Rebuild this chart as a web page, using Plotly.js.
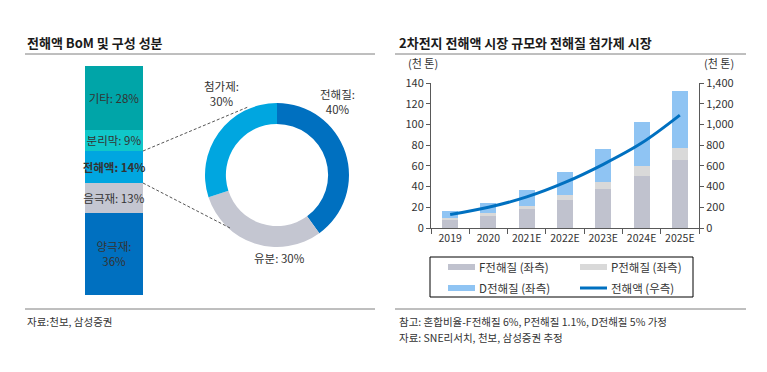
<!DOCTYPE html>
<html>
<head>
<meta charset="utf-8">
<script src="https://cdn.plot.ly/plotly-3.0.1.min.js"></script>
<style>html,body{margin:0;padding:0;background:#fff;}#chart{width:767px;height:372px;}</style>
</head>
<body>
<div id="chart"></div>
<script>
// ---------- data ----------
const bomLabels = ['양극재', '음극재', '전해액', '분리막', '기타'];
const bomValues = [36, 13, 14, 9, 28];
const bomText = ['양극재:<br>36%', '음극재: 13%', '<b>전해액: 14%</b>', '분리막: 9%', '기타: 28%'];

const donutLabels = ['전해질', '유분', '첨가제'];
const donutValues = [40, 30, 30];

const years = ['2019', '2020', '2021E', '2022E', '2023E', '2024E', '2025E'];
const fElectrolyte = [8, 12, 18, 27.5, 38, 50, 65.5];
const pElectrolyte = [2, 2.5, 3.5, 4.5, 6.5, 10, 12];
const dElectrolyte = [6, 10, 15, 22.5, 31.5, 42, 54.5];
const electrolyteMarket = [130, 200, 300, 440, 615, 820, 1090];
const seriesNames = ['F전해질 (좌측)', 'P전해질 (좌측)', 'D전해질 (좌측)', '전해액 (우측)'];

// ---------- styles ----------
const W = 767, H = 372;
const px = x => x / W, py = y => 1 - y / H;
const FONT = '"Noto Sans CJK KR", "Noto Sans", sans-serif';
const bomColors = ['#0070C0', '#C4C6D1', '#00A6E0', '#10C7C9', '#00A5A8'];
const donutColors = ['#0070C0', '#C4C6D1', '#00A6E0'];
const seriesColors = ['#C0C2CE', '#D9D9D9', '#8FC4F3', '#0070C0'];
const txt = '#333333';

const traces = [];
// Left stacked BoM bar
bomLabels.forEach((lab, i) => {
  traces.push({
    type: 'bar', x: ['BoM'], y: [bomValues[i]], name: lab, width: [1],
    xaxis: 'x3', yaxis: 'y3', marker: {color: bomColors[i], line: {width: 0}},
    text: [bomText[i]], textposition: 'inside', insidetextanchor: 'middle',
    constraintext: 'none', textangle: 0, cliponaxis: false,
    textfont: {family: FONT, size: 11.5, color: txt},
    showlegend: false, hoverinfo: 'none'
  });
});
// Donut
traces.push({
  type: 'pie', labels: donutLabels, values: donutValues, hole: 0.71, sort: false,
  direction: 'clockwise', rotation: 0, textinfo: 'none', hoverinfo: 'none',
  marker: {colors: donutColors, line: {width: 0}},
  domain: {x: [px(205), px(349)], y: [py(247), py(103)]}, showlegend: false
});
// Right chart
const stackData = [fElectrolyte, pElectrolyte, dElectrolyte];
stackData.forEach((arr, i) => {
  traces.push({
    type: 'bar', x: years, y: arr, name: seriesNames[i], width: 0.42,
    marker: {color: seriesColors[i], line: {width: 0}},
    xaxis: 'x', yaxis: 'y', showlegend: false, hoverinfo: 'none'
  });
});
traces.push({
  type: 'scatter', mode: 'lines', x: years, y: electrolyteMarket, name: seriesNames[3],
  line: {color: seriesColors[3], width: 3, shape: 'spline'},
  xaxis: 'x', yaxis: 'y2', showlegend: false, hoverinfo: 'none'
});

// ---------- decorations ----------
const shapes = [
  {type: 'line', xref: 'paper', yref: 'paper', x0: px(25), x1: px(375), y0: py(54), y1: py(54), line: {color: '#7f7f7f', width: 1}},
  {type: 'line', xref: 'paper', yref: 'paper', x0: px(25), x1: px(375), y0: py(309), y1: py(309), line: {color: '#7f7f7f', width: 1}},
  {type: 'line', xref: 'paper', yref: 'paper', x0: px(395), x1: px(746), y0: py(54), y1: py(54), line: {color: '#7f7f7f', width: 1}},
  {type: 'line', xref: 'paper', yref: 'paper', x0: px(395), x1: px(746), y0: py(309), y1: py(309), line: {color: '#7f7f7f', width: 1}},
  {type: 'line', xref: 'paper', yref: 'paper', x0: px(143), x1: px(248), y0: py(151), y1: py(107), line: {color: '#555', width: 1, dash: '3px,2px'}},
  {type: 'line', xref: 'paper', yref: 'paper', x0: px(143), x1: px(230), y0: py(183), y1: py(228), line: {color: '#555', width: 1, dash: '3px,2px'}},
  // custom legend box
  {type: 'rect', xref: 'paper', yref: 'paper', x0: px(430), x1: px(693), y0: py(297), y1: py(257), line: {color: '#000', width: 1}, fillcolor: 'rgba(0,0,0,0)'}
];
const legPos = [[448, 267], [580, 267], [448, 288], [580, 288]];
const annotations = [];
seriesNames.forEach((n, i) => {
  const [lx, ly] = legPos[i];
  shapes.push({type: 'line', xref: 'paper', yref: 'paper', x0: px(lx), x1: px(lx + 27), y0: py(ly), y1: py(ly),
    line: {color: seriesColors[i], width: i === 3 ? 3 : 6}});
  annotations.push({xref: 'paper', yref: 'paper', x: px(lx + 29), y: py(ly), xanchor: 'left', yanchor: 'middle',
    text: n, showarrow: false, font: {family: FONT, size: 11.5, color: txt}});
});

const ann = (x, y, text, opts) => Object.assign({xref: 'paper', yref: 'paper', x: px(x), y: py(y), text: text,
  showarrow: false, xanchor: 'center', yanchor: 'middle', font: {family: FONT, size: 11.5, color: txt}}, opts || {});

annotations.push(
  ann(25, 42, '<b>전해액 BoM 및 구성 성분</b>', {xanchor: 'left', font: {family: FONT, size: 13, color: '#1a1a1a'}}),
  ann(397, 42, '<b>2차전지 전해액 시장 규모와 전해질 첨가제 시장</b>', {xanchor: 'left', font: {family: FONT, size: 13, color: '#1a1a1a'}}),
  ann(25, 321, '자료:천보, 삼성증권', {xanchor: 'left', font: {family: FONT, size: 10.5, color: txt}}),
  ann(397, 321, '참고: 혼합비율-F전해질 6%, P전해질 1.1%, D전해질 5% 가정', {xanchor: 'left', font: {family: FONT, size: 10.5, color: txt}}),
  ann(397, 337, '자료: SNE리서치, 천보, 삼성증권 추정', {xanchor: 'left', font: {family: FONT, size: 10.5, color: txt}}),
  ann(423, 63, '(천 톤)', {font: {family: FONT, size: 11, color: txt}}),
  ann(719, 63, '(천 톤)', {font: {family: FONT, size: 11, color: txt}}),
  ann(222, 93, donutLabels[2] + ':<br>' + donutValues[2] + '%'),
  ann(337, 101, donutLabels[0] + ':<br>' + donutValues[0] + '%'),
  ann(279, 258, donutLabels[1] + ': ' + donutValues[1] + '%')
);

const axisFont = {family: FONT, size: 11, color: txt};
const layout = {
  width: W, height: H, margin: {l: 0, r: 0, t: 0, b: 0},
  paper_bgcolor: '#fff', plot_bgcolor: 'rgba(0,0,0,0)',
  barmode: 'stack', showlegend: false,
  font: {family: FONT},
  xaxis: {domain: [px(431), px(699)], type: 'category', showgrid: false, zeroline: false,
    showline: true, linecolor: '#595959', linewidth: 1, ticks: 'outside', tickson: 'boundaries',
    ticklen: 5, tickcolor: '#595959', tickangle: 0, tickfont: {family: FONT, size: 10.5, color: txt}, fixedrange: true},
  yaxis: {domain: [py(228), py(83)], range: [0, 140], dtick: 20, showgrid: false, zeroline: false,
    showline: true, linecolor: '#595959', linewidth: 1, ticks: 'outside', ticklen: 4, tickcolor: '#595959',
    tickfont: axisFont, fixedrange: true},
  yaxis2: {domain: [py(228), py(83)], overlaying: 'y', side: 'right', anchor: 'x', range: [0, 1400], dtick: 200,
    tickformat: ',d', showgrid: false, zeroline: false, showline: true, linecolor: '#595959', linewidth: 1,
    ticks: 'outside', ticklen: 4, tickcolor: '#595959', tickfont: axisFont, fixedrange: true},
  xaxis3: {domain: [px(85), px(143)], anchor: 'y3', visible: false, range: [-0.5, 0.5], type: 'category', fixedrange: true},
  yaxis3: {domain: [py(295), py(66)], anchor: 'x3', visible: false, range: [0, 100], fixedrange: true},
  shapes: shapes, annotations: annotations
};

Plotly.newPlot('chart', traces, layout, {staticPlot: true, displayModeBar: false});
</script>
</body>
</html>
